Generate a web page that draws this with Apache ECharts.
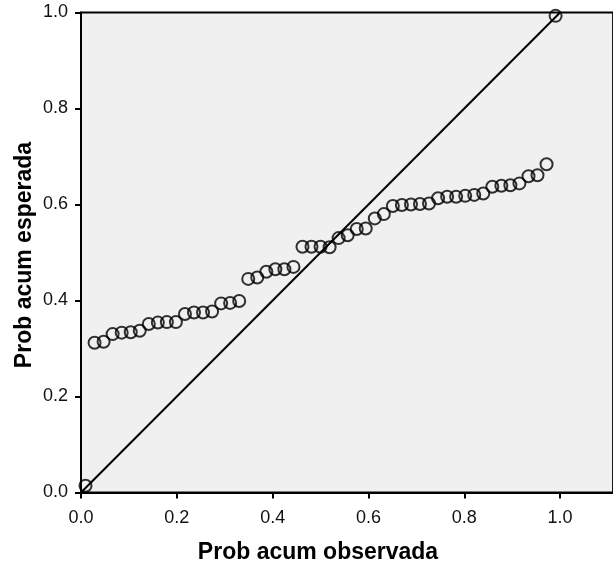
<!DOCTYPE html>
<html>
<head>
<meta charset="utf-8">
<script src="https://cdn.jsdelivr.net/npm/echarts@6/dist/echarts.min.js"></script>
<style>
html,body{margin:0;padding:0;background:#fff;}
#chart{width:613px;height:571px;}
</style>
</head>
<body>
<div id="chart"></div>
<script>
// Observed cumulative probability (x) and expected cumulative probability (y)
var observed = [0.0094,0.0283,0.0472,0.0660,0.0849,0.1038,0.1226,0.1415,0.1604,0.1792,
  0.1981,0.2170,0.2358,0.2547,0.2736,0.2925,0.3113,0.3302,0.3491,0.3679,
  0.3868,0.4057,0.4245,0.4434,0.4623,0.4811,0.5000,0.5189,0.5377,0.5566,
  0.5755,0.5943,0.6132,0.6321,0.6509,0.6698,0.6887,0.7075,0.7264,0.7453,
  0.7642,0.7830,0.8019,0.8208,0.8396,0.8585,0.8774,0.8962,0.9151,0.9340,
  0.9528,0.9717,0.9906];
var expected = [0.014,0.312,0.314,0.330,0.333,0.334,0.337,0.351,0.354,0.355,
  0.355,0.372,0.375,0.375,0.377,0.394,0.395,0.399,0.445,0.448,
  0.460,0.465,0.465,0.470,0.512,0.512,0.512,0.511,0.530,0.536,
  0.549,0.550,0.571,0.580,0.597,0.599,0.600,0.601,0.602,0.613,
  0.616,0.616,0.618,0.620,0.623,0.637,0.639,0.640,0.644,0.659,
  0.661,0.684,0.993];
var refLine = [[0,0],[1,1]];
var xTitle = 'Prob acum observada';
var yTitle = 'Prob acum esperada';

var pts = observed.map(function(v,i){return [v, expected[i]];});

var chart = echarts.init(document.getElementById('chart'), null, {renderer:'canvas'});
var fontFam = '"Liberation Sans", Arial, sans-serif';
chart.setOption({
  animation:false,
  grid:{left:81, top:12.5, right:-1, bottom:78.5, show:true, backgroundColor:'#f0f0f0', borderColor:'#000', borderWidth:1.8},
  xAxis:{type:'value', min:0, max:1.1104, interval:0.2,
    axisLine:{show:true, lineStyle:{color:'#000', width:2}},
    axisTick:{show:true, length:6, lineStyle:{color:'#000', width:2}},
    axisLabel:{color:'#111', fontSize:18, fontFamily:fontFam, margin:17, showMaxLabel:false,
      formatter:function(v){return v.toFixed(1);}},
    splitLine:{show:false}},
  yAxis:{type:'value', min:0, max:1, interval:0.2,
    axisLine:{show:true, lineStyle:{color:'#000', width:2}},
    axisTick:{show:true, length:6, lineStyle:{color:'#000', width:2}},
    axisLabel:{color:'#111', fontSize:18, fontFamily:fontFam, margin:13,
      formatter:function(v){return v.toFixed(1);}},
    splitLine:{show:false}},
  graphic:[
    {type:'text', x:318, y:553, style:{text:xTitle, align:'center', verticalAlign:'middle',
      font:'bold 23px '+fontFam, fill:'#000'}},
    {type:'text', rotation:Math.PI/2, x:25, y:255, style:{text:yTitle, align:'center', verticalAlign:'middle',
      font:'bold 23px '+fontFam, fill:'#000'}}
  ],
  series:[
    {type:'line', data:refLine, showSymbol:false, symbol:'none', lineStyle:{color:'#000', width:2}, z:2, silent:true},
    {type:'scatter', data:pts, symbol:'circle', symbolSize:12,
      itemStyle:{color:'rgba(0,0,0,0)', borderColor:'#000', borderWidth:2}, z:3}
  ]
});
</script>
</body>
</html>
